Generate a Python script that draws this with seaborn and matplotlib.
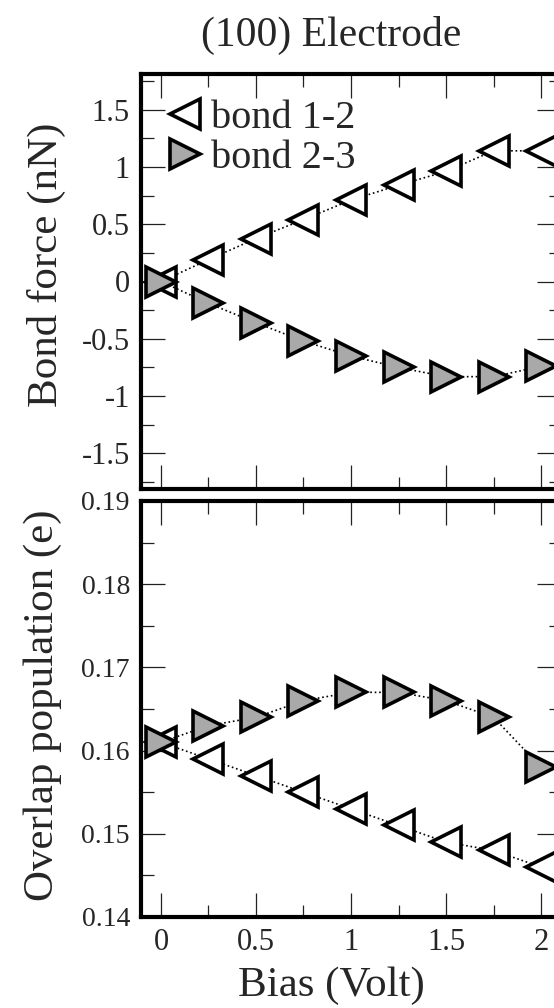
import matplotlib
matplotlib.use("Agg")
import matplotlib.pyplot as plt
from matplotlib.lines import Line2D
from matplotlib.ticker import MultipleLocator
import seaborn as sns
import pandas as pd

# ---- data ----
bias = [0.0, 0.25, 0.5, 0.75, 1.0, 1.25, 1.5, 1.75, 2.0]
force_12 = [0.0, 0.19, 0.375, 0.54, 0.71, 0.84, 0.96, 1.14, 1.14]
force_23 = [0.0, -0.19, -0.36, -0.52, -0.65, -0.75, -0.83, -0.83, -0.74]
overlap_12 = [0.161, 0.159, 0.157, 0.155, 0.153, 0.151, 0.149, 0.148, 0.146]
overlap_23 = [0.161, 0.163, 0.164, 0.166, 0.167, 0.167, 0.166, 0.164, 0.158]
labels = ["bond 1-2", "bond 2-3"]
title = "(100) Electrode"
xlabel = "Bias (Volt)"
ylabel_top = "Bond force (nN)"
ylabel_bot = "Overlap population (e)"
xticks = [0, 0.5, 1, 1.5, 2]
xticklabels = ["0", "0.5", "1", "1.5", "2"]
yticks_top = [-1.5, -1, -0.5, 0, 0.5, 1, 1.5]
yticklabels_top = ["-1.5", "-1", "-0.5", "0", "0.5", "1", "1.5"]
yticks_bot = [0.14, 0.15, 0.16, 0.17, 0.18, 0.19]
yticklabels_bot = ["0.14", "0.15", "0.16", "0.17", "0.18", "0.19"]

sns.set_style("ticks")
plt.rcParams["font.family"] = ["Liberation Serif", "DejaVu Serif"]
plt.rcParams["mathtext.fontset"] = "stix"

W, H = 554, 1008
fig = plt.figure(figsize=(W / 100, H / 100), dpi=100)

def fx(px):
    return px / W

def fy(py):
    return 1 - py / H

left, right = 141, 561
ax1 = fig.add_axes([fx(left), fy(489), fx(right) - fx(left), fy(74) - fy(489)])
ax2 = fig.add_axes([fx(left), fy(917), fx(right) - fx(left), fy(501) - fy(917)])

gray = "#a9a9a9"
mstyle12 = dict(marker="<", markersize=22, markeredgewidth=2.6, markeredgecolor="black",
                markerfacecolor="white")
mstyle23 = dict(marker=">", markersize=22, markeredgewidth=2.6, markeredgecolor="black",
                markerfacecolor=gray)

df_top = pd.DataFrame({"bias": bias, "f12": force_12, "f23": force_23})
df_bot = pd.DataFrame({"bias": bias, "o12": overlap_12, "o23": overlap_23})

for ax, df, c12, c23 in [(ax1, df_top, "f12", "f23"), (ax2, df_bot, "o12", "o23")]:
    sns.lineplot(data=df, x="bias", y=c12, ax=ax, color="black", linestyle=":",
                 linewidth=1.2, **mstyle12)
    sns.lineplot(data=df, x="bias", y=c23, ax=ax, color="black", linestyle=":",
                 linewidth=1.2, **mstyle23)
    ax.set_xlim(-0.105, 2.105)
    ax.xaxis.set_minor_locator(MultipleLocator(0.25))
    ax.set_xticks(xticks)
    for s in ax.spines.values():
        s.set_linewidth(3.0)
        s.set_color("black")
    ax.tick_params(which="both", direction="in", top=True, right=True,
                   color="#222222", width=0.9)
    ax.tick_params(which="major", length=17, pad=8)
    ax.tick_params(which="minor", length=9)
    ax.set_xlabel("")
    ax.set_ylabel("")

ax1.set_ylim(-1.81, 1.81)
ax1.set_yticks(yticks_top)
ax1.set_yticklabels(yticklabels_top, fontsize=22)
ax1.yaxis.set_minor_locator(MultipleLocator(0.25))
ax1.set_xticklabels([])

ax2.set_ylim(0.14, 0.19)
ax2.set_yticks(yticks_bot)
ax2.set_yticklabels(yticklabels_bot, fontsize=20)
ax2.yaxis.set_minor_locator(MultipleLocator(0.005))
ax2.set_xticklabels(xticklabels, fontsize=22)

ax2.set_xlabel(xlabel, fontsize=31, labelpad=0)
ax2.xaxis.set_label_coords((331 - left) / (right - left), -(966 - 917) / (917 - 501))
ax1.set_ylabel(ylabel_top, fontsize=31)
ax1.yaxis.set_label_coords(-(left - 66) / (right - left), (489 - 265) / (489 - 74))
ax2.set_ylabel(ylabel_bot, fontsize=31)
ax2.yaxis.set_label_coords(-(left - 62) / (right - left), (917 - 705) / (917 - 501))

fig.text(fx(331), fy(35), title, fontsize=30, ha="center", va="center")

handles = [Line2D([], [], linestyle="none", **mstyle12),
           Line2D([], [], linestyle="none", **mstyle23)]
leg = ax1.legend(handles, labels, loc="upper left", frameon=False, fontsize=29,
                 bbox_to_anchor=(0.0, 0.995), handlelength=1.0, handletextpad=0.15,
                 labelspacing=0.05, borderaxespad=0.2)

fig.savefig("out.png", dpi=100)
